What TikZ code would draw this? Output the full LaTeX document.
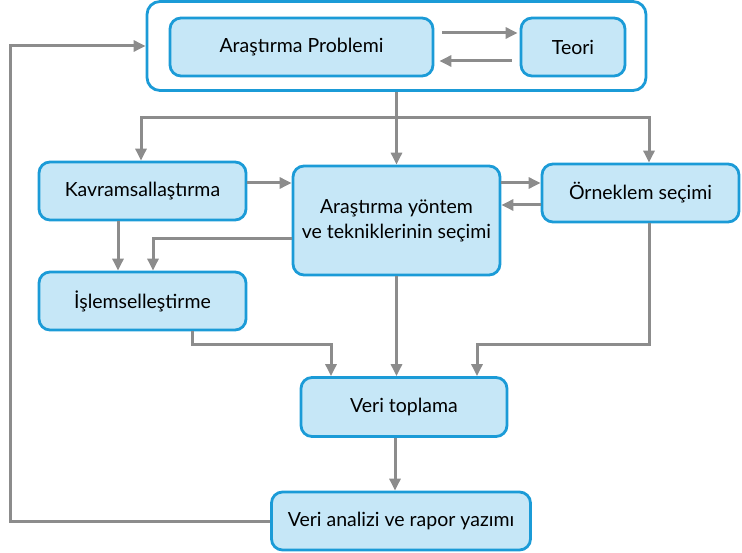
\documentclass[tikz,border=0pt]{standalone}
\usepackage{fontspec}
\setmainfont{Lato}
\usetikzlibrary{arrows.meta}
\definecolor{bbord}{HTML}{1B9BD7}
\definecolor{bfill}{HTML}{C6E7F7}
\definecolor{lgray}{HTML}{8C8C8C}
\tikzset{
  box/.style={draw=bbord, fill=bfill, line width=2.8pt, rounded corners=11pt, align=center, font=\fontsize{19.5}{25}\selectfont, inner sep=0pt},
  outerbox/.style={draw=bbord, fill=white, line width=2.8pt, rounded corners=13pt, inner sep=0pt},
  ln/.style={draw=lgray, line width=3pt},
  arr/.style={ln, -{Triangle[length=12pt,width=11pt]}}
}
\begin{document}
\begin{tikzpicture}[x=1pt,y=-1pt]
\useasboundingbox (0,0) rectangle (742,553);
\node[outerbox, minimum width=499pt, minimum height=89pt] (outer) at (396.5,46) {};
\node[box, minimum width=263pt, minimum height=58pt] (prob) at (301.5,47) {Araştırma Problemi};
\node[box, minimum width=104pt, minimum height=58pt] (teori) at (573,47) {Teori};
\node[box, minimum width=207pt, minimum height=58pt] (kavram) at (142.5,191) {Kavramsallaştırma};
\node[box, minimum width=207pt, minimum height=109pt] (center) at (396.5,220.5) {Araştırma yöntem\\ve tekniklerinin seçimi};
\node[box, minimum width=197pt, minimum height=58pt] (ornek) at (640.5,193) {Örneklem seçimi};
\node[box, minimum width=207pt, minimum height=58pt] (islem) at (142.5,301) {İşlemselleştirme};
\node[box, minimum width=206pt, minimum height=59pt] (toplama) at (404,407) {Veri toplama};
\node[box, minimum width=259pt, minimum height=58pt] (analiz) at (401,521) {Veri analizi ve rapor yazımı};

\coordinate (br) at (396.5,118);
\coordinate (jl) at (331,345);
\coordinate (jr) at (477,345);
\coordinate (fb1) at (10,521);
\coordinate (fb2) at (10,46);

% top
\draw[arr, shorten <=8pt, shorten >=2pt] (prob.east |- 0,33) -- (teori.west |- 0,33);
\draw[arr, shorten <=8pt, shorten >=5pt] (teori.west |- 0,61) -- (prob.east |- 0,61);
\draw[arr] (outer.south) -- (center.north);
\draw[arr] (br) -| (kavram.north -| 141,0);
\draw[arr] (br) -| (ornek.north -| 649,0);
% middle
\draw[arr] (kavram.east |- 0,183) -- (center.west |- 0,183);
\draw[arr] (center.east |- 0,183) -- (ornek.west |- 0,183);
\draw[arr] (ornek.west |- 0,205) -- (center.east |- 0,205);
\draw[arr] (kavram.south -| 118,0) -- (islem.north -| 118,0);
\draw[arr] (center.west |- 0,239) -| (islem.north -| 153,0);
% to veri toplama
\draw[arr] (islem.south -| 192,0) |- (jl) -- (toplama.north -| jl);
\draw[arr] (center.south) -- (center.south |- toplama.north);
\draw[arr] (ornek.south -| 649,0) |- (jr) -- (toplama.north -| jr);
\draw[arr] (toplama.south -| 395,0) -- (analiz.north -| 395,0);
% feedback
\draw[arr] (analiz.west) -- (fb1) -- (fb2) -- (outer.west);
\end{tikzpicture}
\end{document}
